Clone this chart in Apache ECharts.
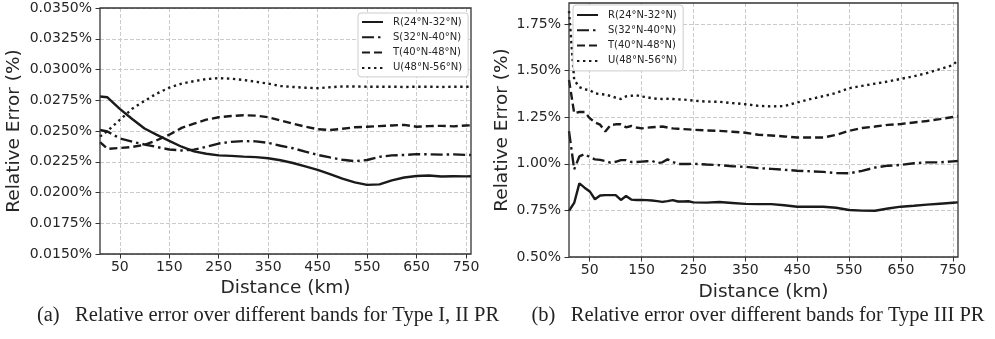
<!DOCTYPE html>
<html>
<head>
<meta charset="utf-8">
<script src="https://cdn.jsdelivr.net/npm/echarts@6/dist/echarts.min.js"></script>
<style>
html,body{margin:0;padding:0;background:#fff;}
#chart{width:995px;height:339px;}
</style>
</head>
<body>
<div id="chart"></div>
<script>
// ---------- DATA ----------
const seriesNames = ['R(24°N-32°N)', 'S(32°N-40°N)', 'T(40°N-48°N)', 'U(48°N-56°N)'];
const xTickValues = [50, 150, 250, 350, 450, 550, 650, 750];
const rightYTicks = [0.5, 0.75, 1.0, 1.25, 1.5, 1.75];

// (a) Type I, II PR
const distA = [10, 25, 50, 75, 100, 125, 150, 175, 200, 225, 250, 275, 300, 325, 350, 375, 400, 425, 450, 475, 500, 525, 550, 575, 600, 625, 650, 675, 700, 725, 750, 760];
const aR = [0.02780, 0.02774, 0.02680, 0.02598, 0.02520, 0.02468, 0.02420, 0.02372, 0.02334, 0.02315, 0.02302, 0.02298, 0.02292, 0.02288, 0.02278, 0.02262, 0.02240, 0.02212, 0.02184, 0.02150, 0.02112, 0.02082, 0.02062, 0.02066, 0.02098, 0.02122, 0.02134, 0.02138, 0.02130, 0.02132, 0.02131, 0.02132];
const aS = [0.02508, 0.02496, 0.02440, 0.02413, 0.02390, 0.02370, 0.02350, 0.02342, 0.02348, 0.02372, 0.02398, 0.02412, 0.02418, 0.02416, 0.02404, 0.02380, 0.02360, 0.02332, 0.02306, 0.02285, 0.02266, 0.02255, 0.02264, 0.02290, 0.02302, 0.02305, 0.02312, 0.02310, 0.02308, 0.02310, 0.02306, 0.02305];
const aT = [0.02410, 0.02355, 0.02362, 0.02370, 0.02388, 0.02425, 0.02470, 0.02525, 0.02560, 0.02592, 0.02612, 0.02622, 0.02628, 0.02625, 0.02612, 0.02585, 0.02560, 0.02535, 0.02515, 0.02508, 0.02518, 0.02530, 0.02535, 0.02540, 0.02545, 0.02550, 0.02535, 0.02540, 0.02542, 0.02538, 0.02545, 0.02546];
const aU = [0.02455, 0.02500, 0.02590, 0.02680, 0.02745, 0.02805, 0.02852, 0.02885, 0.02905, 0.02922, 0.02930, 0.02925, 0.02915, 0.02900, 0.02885, 0.02866, 0.02858, 0.02852, 0.02848, 0.02856, 0.02862, 0.02862, 0.02860, 0.02860, 0.02860, 0.02858, 0.02860, 0.02860, 0.02858, 0.02860, 0.02860, 0.02860];

// (b) Type III PR
const distB = [10, 20, 30, 40, 50, 60, 70, 80, 90, 100, 110, 120, 130, 140, 150, 160, 170, 180, 190, 200, 210, 220, 230, 240, 250, 275, 300, 325, 350, 375, 400, 425, 450, 475, 500, 525, 550, 575, 600, 625, 650, 675, 700, 725, 750, 760];
const bR = [0.748, 0.790, 0.895, 0.872, 0.852, 0.810, 0.830, 0.832, 0.832, 0.832, 0.806, 0.827, 0.808, 0.806, 0.806, 0.805, 0.803, 0.800, 0.796, 0.800, 0.805, 0.798, 0.798, 0.799, 0.793, 0.792, 0.795, 0.790, 0.785, 0.784, 0.784, 0.778, 0.770, 0.770, 0.770, 0.764, 0.752, 0.749, 0.748, 0.760, 0.770, 0.775, 0.781, 0.786, 0.791, 0.793];
const bS = [1.175, 0.970, 1.040, 1.052, 1.036, 1.024, 1.021, 1.015, 1.006, 1.011, 1.020, 1.020, 1.010, 1.010, 1.012, 1.014, 1.016, 1.004, 1.008, 1.024, 1.010, 0.999, 0.999, 0.999, 1.000, 0.996, 0.993, 0.987, 0.984, 0.977, 0.973, 0.968, 0.963, 0.960, 0.957, 0.950, 0.949, 0.962, 0.980, 0.990, 0.994, 1.003, 1.008, 1.008, 1.013, 1.015];
const bT = [1.450, 1.272, 1.278, 1.278, 1.245, 1.222, 1.210, 1.173, 1.208, 1.212, 1.212, 1.196, 1.203, 1.195, 1.190, 1.194, 1.196, 1.198, 1.200, 1.195, 1.190, 1.188, 1.186, 1.185, 1.183, 1.179, 1.177, 1.172, 1.167, 1.156, 1.152, 1.147, 1.141, 1.141, 1.141, 1.155, 1.177, 1.192, 1.200, 1.209, 1.214, 1.222, 1.230, 1.240, 1.251, 1.255];
const bU = [1.820, 1.450, 1.412, 1.400, 1.395, 1.378, 1.374, 1.372, 1.364, 1.355, 1.348, 1.362, 1.365, 1.368, 1.361, 1.358, 1.352, 1.349, 1.348, 1.349, 1.348, 1.346, 1.345, 1.342, 1.339, 1.334, 1.333, 1.326, 1.320, 1.311, 1.308, 1.310, 1.329, 1.347, 1.363, 1.380, 1.406, 1.418, 1.430, 1.442, 1.456, 1.470, 1.487, 1.508, 1.530, 1.556];

// ---------- STYLE ----------
const FONT = 'DejaVu Sans';
const INK = '#1a1a1a';
const TXT = '#262626';
const lineTypes = ['solid', [12, 4, 2.5, 4], [8, 4], [2.4, 3.6]];
const GRIDLINE = { show: true, lineStyle: { color: '#cbcbcb', type: [4, 2], width: 1 } };

function zip(xs, ys) { return xs.map((x, i) => [x, ys[i]]); }

function xAxisFor(gi) {
  return {
    type: 'value', gridIndex: gi, min: 10, max: 760,
    name: 'Distance (km)', nameLocation: 'middle', nameGap: gi === 0 ? 25 : 26,
    nameTextStyle: { fontFamily: FONT, fontSize: 18.5, color: TXT },
    axisLine: { show: false },
    axisTick: { show: true, customValues: xTickValues, length: 4.5, lineStyle: { color: '#333' } },
    axisLabel: { customValues: xTickValues, fontFamily: FONT, fontSize: 14, color: TXT, margin: 6 },
    splitLine: GRIDLINE
  };
}

function legendFor(left, top, padTop) {
  return {
    left: left, top: top, orient: 'vertical', data: seriesNames,
    itemWidth: 21, itemHeight: 12, itemGap: 3.3,
    padding: [padTop, 6, padTop, 3],
    backgroundColor: '#fff', borderColor: '#cccccc', borderWidth: 1, borderRadius: 3,
    itemStyle: { opacity: 0 },
    textStyle: { fontFamily: FONT, fontSize: 10, color: TXT, lineHeight: 12, padding: [0, 0, 0, 5] },
    selectedMode: false
  };
}

const option = {
  animation: false,
  backgroundColor: '#fff',
  grid: [
    { left: 100, top: 8, width: 371, height: 246, show: true, borderColor: '#333', borderWidth: 1.3, backgroundColor: 'transparent', z: 4 },
    { left: 569, top: 3, width: 389, height: 254, show: true, borderColor: '#333', borderWidth: 1.3, backgroundColor: 'transparent', z: 4 }
  ],
  xAxis: [xAxisFor(0), xAxisFor(1)],
  yAxis: [
    {
      type: 'value', gridIndex: 0, min: 0.015, max: 0.035, interval: 0.0025,
      name: 'Relative Error (%)', nameLocation: 'middle', nameGap: 76,
      nameTextStyle: { fontFamily: FONT, fontSize: 18.5, color: TXT },
      axisLine: { show: false },
      axisTick: { show: true, length: 4.5, lineStyle: { color: '#333' } },
      axisLabel: { fontFamily: FONT, fontSize: 14, color: TXT, margin: 8, formatter: v => v.toFixed(4) + '%' },
      splitLine: GRIDLINE
    },
    {
      type: 'value', gridIndex: 1, min: 0.5, max: 1.863,
      name: 'Relative Error (%)', nameLocation: 'middle', nameGap: 57,
      nameTextStyle: { fontFamily: FONT, fontSize: 18.5, color: TXT },
      axisLine: { show: false },
      axisTick: { show: true, length: 4.5, customValues: rightYTicks, lineStyle: { color: '#333' } },
      axisLabel: { customValues: rightYTicks, fontFamily: FONT, fontSize: 14, color: TXT, margin: 8, formatter: v => v.toFixed(2) + '%' },
      splitLine: GRIDLINE
    }
  ],
  legend: [legendFor(358, 13, 3), legendFor(573, 5, 4)],
  graphic: [
    { type: 'text', x: 268, y: 316, style: { text: '(a)   Relative error over different bands for Type I, II PR', font: '20.5px "Liberation Serif"', fill: '#222', textAlign: 'center', textVerticalAlign: 'middle' } },
    { type: 'text', x: 758, y: 316, style: { text: '(b)   Relative error over different bands for Type III PR', font: '20.5px "Liberation Serif"', fill: '#222', textAlign: 'center', textVerticalAlign: 'middle' } }
  ],
  series: []
};

const aSets = [aR, aS, aT, aU];
const bSets = [bR, bS, bT, bU];
[0, 1].forEach(gi => {
  const sets = gi === 0 ? aSets : bSets;
  const dist = gi === 0 ? distA : distB;
  sets.forEach((vals, k) => {
    option.series.push({
      type: 'line', name: seriesNames[k], xAxisIndex: gi, yAxisIndex: gi,
      data: zip(dist, vals), showSymbol: false, symbol: 'none', smooth: false,
      color: INK,
      itemStyle: { opacity: 0 },
      lineStyle: { color: INK, width: 2.4, type: lineTypes[k], opacity: 1 },
      z: 3
    });
  });
});

const chart = echarts.init(document.getElementById('chart'), null, { renderer: 'canvas' });
chart.setOption(option);
</script>
</body>
</html>
